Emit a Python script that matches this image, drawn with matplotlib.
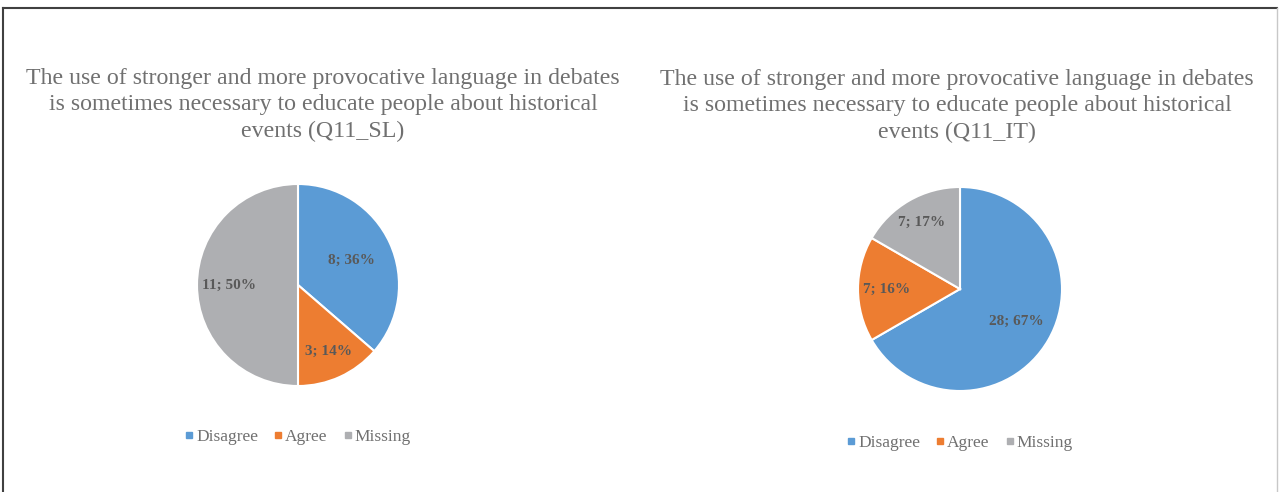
import numpy as np
import matplotlib.pyplot as plt
from matplotlib.lines import Line2D

# --- data ---
categories = ["Disagree", "Agree", "Missing"]
sl_counts = [8, 3, 11]
sl_labels = ["8; 36%", "3; 14%", "11; 50%"]
it_counts = [28, 7, 7]
it_labels = ["28; 67%", "7; 16%", "7; 17%"]

title_sl = ("The use of stronger and more provocative language in debates\n"
            "is sometimes necessary to educate people about historical\n"
            "events (Q11_SL)")
title_it = ("The use of stronger and more provocative language in debates\n"
            "is sometimes necessary to educate people about historical\n"
            "events (Q11_IT)")

colors = ["#5B9BD5", "#ED7D31", "#AEAFB2"]
TEXT_GRAY = "#707070"
LABEL_GRAY = "#595959"

W, H = 1280, 492
plt.rcParams['font.family'] = ['Liberation Serif', 'DejaVu Serif']

fig = plt.figure(figsize=(W / 100, H / 100), dpi=100)

# frame round the chart
fig.add_artist(Line2D([3 / W, 1277 / W], [1 - 8 / H, 1 - 8 / H], color="#404040", lw=1.5))
fig.add_artist(Line2D([3 / W, 3 / W], [0, 1 - 8 / H], color="#404040", lw=1.5))
fig.add_artist(Line2D([1277 / W, 1277 / W], [0, 1 - 8 / H], color="#c8c8c8", lw=1))


def draw_pie(counts, labels, cx, cy, r, dists, title, tx, ty, legend_y):
    # axes sized so that pie radius 1 (limits +-1.25) matches r pixels
    side = 2 * r * 1.25
    ax = fig.add_axes([(cx - side / 2) / W, 1 - (cy + side / 2) / H, side / W, side / H])
    wedges, _ = ax.pie(counts, colors=colors, startangle=90, counterclock=False,
                       wedgeprops=dict(edgecolor="white", linewidth=1.5))
    ax.set_xlim(-1.25, 1.25)
    ax.set_ylim(-1.25, 1.25)
    total = sum(counts)
    start = 90.0
    for c, lab, d in zip(counts, labels, dists):
        mid = np.deg2rad(start - c / total * 180)
        start -= c / total * 360
        ax.text(d * np.cos(mid), d * np.sin(mid), lab, ha="center", va="center",
                fontsize=11, fontweight="bold", color=LABEL_GRAY)

    fig.text(tx / W, 1 - ty / H, title, ha="center", va="center", fontsize=17.2,
             color=TEXT_GRAY, linespacing=1.36)

    handles = [Line2D([], [], marker="s", linestyle="none", markersize=4.5,
                      markerfacecolor=col, markeredgecolor=col) for col in colors]
    fig.legend(handles, categories, loc="center", bbox_to_anchor=(cx / W, 1 - legend_y / H),
               ncol=3, frameon=False, fontsize=12.5, handlelength=0.5, handletextpad=0.15,
               columnspacing=0.9, labelcolor=TEXT_GRAY)


draw_pie(sl_counts, sl_labels, 298, 285, 101, [0.58, 0.72, 0.68],
         title_sl, 323, 105, 437)
draw_pie(it_counts, it_labels, 960, 289, 102, [0.64, 0.72, 0.75],
         title_it, 957, 106, 443)

fig.savefig("out.png", dpi=100, facecolor="white")
